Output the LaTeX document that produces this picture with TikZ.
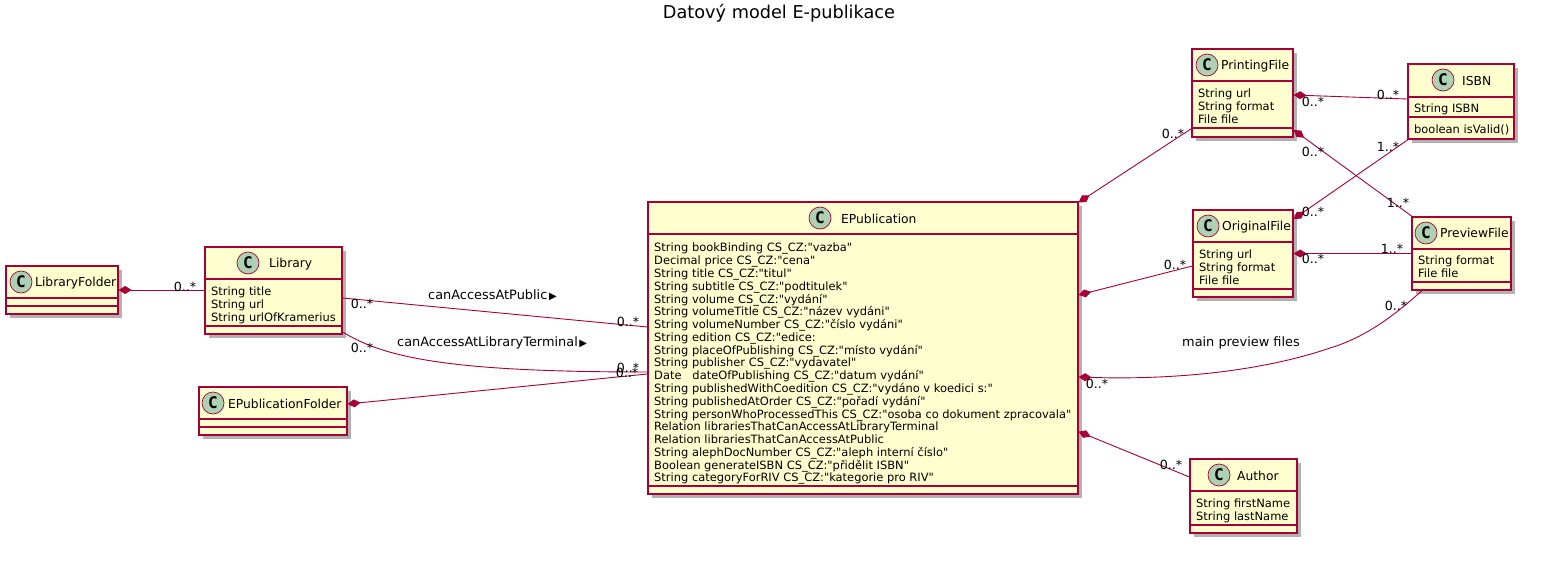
\documentclass[tikz,border=0pt]{standalone}
\usepackage{fontspec}
\newfontfamily\umlfont{DejaVu Sans}
\newfontfamily\circlefont{DejaVu Sans Mono}
\usepackage{tikz}
\usetikzlibrary{arrows.meta, calc, shadows}
\definecolor{umlLine}{HTML}{A80036}
\definecolor{umlFill}{HTML}{FEFECE}
\definecolor{umlCircle}{HTML}{ADD1B2}
\tikzstyle{fClass} = [rectangle, draw=umlLine, fill=umlFill, line width=1.25pt, inner sep=0pt, drop shadow={shadow xshift=4pt, shadow yshift=-4pt, fill=black, opacity=0.3}]
\tikzstyle{fCircle} = [circle, draw=umlLine, fill=umlCircle, line width=0.7pt, minimum size=22pt, inner sep=0pt, font=\circlefont\bfseries\fontsize{16}{16}\selectfont]
\tikzstyle{fName} = [inner sep=0pt, font=\umlfont\fontsize{12.3}{14}\selectfont]
\tikzstyle{fMembers} = [inner sep=0pt, anchor=north west, align=left, font=\umlfont\fontsize{11.45}{12.78}\selectfont]
\tikzstyle{fSep} = [draw=umlLine, line width=1.25pt]
\tikzstyle{fEdge} = [draw=umlLine, line width=0.9pt]
\tikzstyle{fComp} = [fEdge, {Diamond[length=13pt, width=8pt, fill=umlLine]}-]
\tikzstyle{fMult} = [inner sep=0pt, font=\umlfont\fontsize{12.6}{14}\selectfont]
\tikzstyle{fLabel} = [inner sep=0pt, font=\umlfont\fontsize{12.9}{14}\selectfont]
\newcommand{\fTri}{{\fontsize{10}{10}\selectfont\,▶}}
\begin{document}
\begin{tikzpicture}[x=1pt, y=-1pt]
    \useasboundingbox (0,0) rectangle (1556,562);
    \node (title) [inner sep=0pt, font=\umlfont\fontsize{17.7}{20}\selectfont] at (779,13) {Datový model E-publikace};

    % boxes
    \node (libFolder) [fClass, minimum width=112pt, minimum height=48pt] at (62,290) {};
    \node (library) [fClass, minimum width=137pt, minimum height=87pt] at (273.5,290.5) {};
    \node (epubFolder) [fClass, minimum width=148pt, minimum height=48pt] at (273,411) {};
    \node (epub) [fClass, minimum width=430pt, minimum height=292pt] at (863,348) {};
    \node (printing) [fClass, minimum width=101pt, minimum height=88pt] at (1242.5,93) {};
    \node (isbn) [fClass, minimum width=106pt, minimum height=75pt] at (1461,101.5) {};
    \node (original) [fClass, minimum width=100pt, minimum height=87pt] at (1243,253.5) {};
    \node (preview) [fClass, minimum width=99pt, minimum height=73pt] at (1461.5,253.5) {};
    \node (author) [fClass, minimum width=107pt, minimum height=74pt] at (1243.5,496) {};

    % separators
    \draw [fSep] (libFolder.west |- 0,298) -- (libFolder.east |- 0,298);
    \draw [fSep] (libFolder.west |- 0,306) -- (libFolder.east |- 0,306);
    \draw [fSep] (library.west |- 0,279) -- (library.east |- 0,279);
    \draw [fSep] (library.west |- 0,326) -- (library.east |- 0,326);
    \draw [fSep] (epubFolder.west |- 0,419) -- (epubFolder.east |- 0,419);
    \draw [fSep] (epubFolder.west |- 0,427) -- (epubFolder.east |- 0,427);
    \draw [fSep] (epub.west |- 0,234) -- (epub.east |- 0,234);
    \draw [fSep] (epub.west |- 0,486) -- (epub.east |- 0,486);
    \draw [fSep] (printing.west |- 0,81) -- (printing.east |- 0,81);
    \draw [fSep] (printing.west |- 0,128) -- (printing.east |- 0,128);
    \draw [fSep] (isbn.west |- 0,97) -- (isbn.east |- 0,97);
    \draw [fSep] (isbn.west |- 0,117) -- (isbn.east |- 0,117);
    \draw [fSep] (original.west |- 0,242) -- (original.east |- 0,242);
    \draw [fSep] (original.west |- 0,289) -- (original.east |- 0,289);
    \draw [fSep] (preview.west |- 0,249) -- (preview.east |- 0,249);
    \draw [fSep] (preview.west |- 0,282) -- (preview.east |- 0,282);
    \draw [fSep] (author.west |- 0,491) -- (author.east |- 0,491);
    \draw [fSep] (author.west |- 0,525) -- (author.east |- 0,525);

    % class headers
    \node (libFolderC) [fCircle] at (21,282) {C};
    \node (libFolderName) [fName, anchor=west] at (35,283) {LibraryFolder};
    \node (libraryC) [fCircle] at (248,263) {C};
    \node (libraryName) [fName, anchor=west] at (269,264) {Library};
    \node (epubFolderC) [fCircle] at (213,403) {C};
    \node (epubFolderName) [fName, anchor=west] at (228,404) {EPublicationFolder};
    \node (epubC) [fCircle] at (820,218) {C};
    \node (epubName) [fName, anchor=west] at (841,219) {EPublication};
    \node (printingC) [fCircle] at (1207,65) {C};
    \node (printingName) [fName, anchor=west] at (1221,66) {PrintingFile};
    \node (isbnC) [fCircle] at (1443,80) {C};
    \node (isbnName) [fName, anchor=west] at (1462,81) {ISBN};
    \node (originalC) [fCircle] at (1208,226) {C};
    \node (originalName) [fName, anchor=west] at (1222,227) {OriginalFile};
    \node (previewC) [fCircle] at (1426,233) {C};
    \node (previewName) [fName, anchor=west] at (1440,233) {PreviewFile};
    \node (authorC) [fCircle] at (1219,475) {C};
    \node (authorName) [fName, anchor=west] at (1237,476) {Author};

    % members
    \node (libraryMembers) [fMembers] at (211,287) {String title\\String url\\String urlOfKramerius};
    \node (epubMembers) [fMembers] at (654,243) {String bookBinding CS\_CZ:"vazba"\\Decimal price CS\_CZ:"cena"\\String title CS\_CZ:"titul"\\String subtitle CS\_CZ:"podtitulek"\\String volume CS\_CZ:"vydání"\\String volumeTitle CS\_CZ:"název vydáni"\\String volumeNumber CS\_CZ:"číslo vydáni"\\String edition CS\_CZ:"edice:\\String placeOfPublishing CS\_CZ:"místo vydání"\\String publisher CS\_CZ:"vydavatel"\\Date\ \ \ dateOfPublishing CS\_CZ:"datum vydání"\\String publishedWithCoedition CS\_CZ:"vydáno v koedici s:"\\String publishedAtOrder CS\_CZ:"pořadí vydání"\\String personWhoProcessedThis CS\_CZ:"osoba co dokument zpracovala"\\Relation librariesThatCanAccessAtLibraryTerminal\\Relation librariesThatCanAccessAtPublic\\String alephDocNumber CS\_CZ:"aleph interní číslo"\\Boolean generateISBN CS\_CZ:"přidělit ISBN"\\String categoryForRIV CS\_CZ:"kategorie pro RIV"};
    \node (printingMembers) [fMembers] at (1198,89) {String url\\String format\\File file};
    \node (isbnMembers) [fMembers] at (1414,104) {String ISBN};
    \node (isbnMethods) [fMembers] at (1414,125) {boolean isValid()};
    \node (originalMembers) [fMembers] at (1199,250) {String url\\String format\\File file};
    \node (previewMembers) [fMembers] at (1418,256) {String format\\File file};
    \node (authorMembers) [fMembers] at (1196,499) {String firstName\\String lastName};

    % connectors
    \draw [fComp] (libFolder.east) -- (library.west |- libFolder.east);
    \draw [fEdge] ([yshift=-7.5pt]library.east) -- ([yshift=21pt]epub.west);
    \draw [fEdge] ([yshift=-41.5pt]library.east) .. controls (385,358) and (450,372) .. ([yshift=-24pt]epub.west);
    \draw [fComp] ([yshift=7pt]epubFolder.east) -- ([yshift=-26pt]epub.west);
    \draw [fComp] ([yshift=-1pt]epub.north east) -- ([yshift=9pt]printing.south west);
    \draw [fComp] ([yshift=53pt]epub.east) -- ([yshift=-12.5pt]original.west);
    \draw [fComp] ([yshift=-29pt]epub.east) .. controls (1170,380) and (1260,372) .. (1330,348) .. controls (1370,336) and (1400,310) .. ([xshift=-39.5pt]preview.south);
    \draw [fComp] ([yshift=-83.6pt]epub.east) -- ([yshift=19pt]author.west);
    \draw [fComp] ([yshift=-2pt]printing.east) -- ([yshift=2.5pt]isbn.west);
    \draw [fComp] ([yshift=-37pt]printing.east) -- ([xshift=-49.5pt]preview.north);
    \draw [fComp] ([yshift=34.5pt]original.east) -- ([xshift=-53pt]isbn.south);
    \draw [fComp] (original.east) -- (preview.west);

    % connector labels
    \node (pubLabel) [fLabel, anchor=west] at (428,295) {canAccessAtPublic\fTri};
    \node (termLabel) [fLabel, anchor=west] at (397,343) {canAccessAtLibraryTerminal\fTri};
    \node (mainLabel) [fLabel] at (1241,343) {main preview files};

    % multiplicities
    \node (m1) [fMult] at (185,287) {0..*};
    \node (m2) [fMult] at (362,304) {0..*};
    \node (m3) [fMult] at (628,322) {0..*};
    \node (m4) [fMult] at (362,348) {0..*};
    \node (m5) [fMult] at (628,368) {0..*};
    \node (m6) [fMult] at (627,373) {0..*};
    \node (m7) [fMult] at (1173,134) {0..*};
    \node (m8) [fMult] at (1175,265) {0..*};
    \node (m9) [fMult] at (1097,384) {0..*};
    \node (m10) [fMult] at (1171,465) {0..*};
    \node (m11) [fMult] at (1313,102) {0..*};
    \node (m12) [fMult] at (1388,95) {0..*};
    \node (m13) [fMult] at (1313,152) {0..*};
    \node (m14) [fMult] at (1388,147) {1..*};
    \node (m15) [fMult] at (1398,203) {1..*};
    \node (m16) [fMult] at (1313,212) {0..*};
    \node (m17) [fMult] at (1313,259) {0..*};
    \node (m18) [fMult] at (1392,249) {1..*};
    \node (m19) [fMult] at (1396,306) {0..*};
\end{tikzpicture}
\end{document}
